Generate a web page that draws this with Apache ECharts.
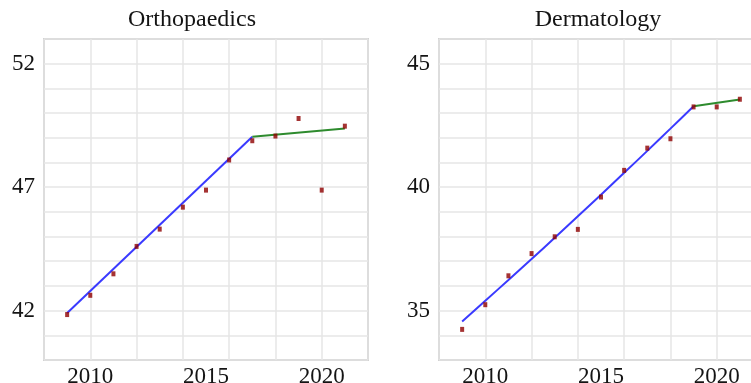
<!DOCTYPE html>
<html>
<head>
<meta charset="utf-8">
<script src="https://cdn.jsdelivr.net/npm/echarts@6/dist/echarts.min.js"></script>
<style>
html,body{margin:0;padding:0;background:#fff;}
#chart{width:751px;height:383px;}
</style>
</head>
<body>
<div id="chart"></div>
<script>
// ---- data ----
var years = [2009, 2010, 2011, 2012, 2013, 2014, 2015, 2016, 2017, 2018, 2019, 2020, 2021];

var orthoTitle = 'Orthopaedics';
var orthoValues = [41.84, 42.62, 43.49, 44.60, 45.30, 46.19, 46.88, 48.10, 48.88, 49.07, 49.78, 46.88, 49.47];
var orthoFit1Years = [2009, 2017];
var orthoFit1Values = [41.9, 49.04];
var orthoFit2Years = [2017, 2021];
var orthoFit2Values = [49.04, 49.38];

var dermTitle = 'Dermatology';
var dermValues = [34.24, 35.24, 36.41, 37.31, 37.99, 38.29, 39.60, 40.68, 41.58, 41.96, 43.25, 43.25, 43.56];
var dermFit1Years = [2009, 2010, 2011, 2012, 2013, 2014, 2015, 2016, 2017, 2018, 2019];
var dermFit1Values = [34.56, 35.40, 36.24, 37.09, 37.95, 38.82, 39.69, 40.58, 41.47, 42.37, 43.28];
var dermFit2Years = [2019, 2021];
var dermFit2Values = [43.28, 43.55];

var xTickLabels = [2010, 2015, 2020];
var orthoYTickLabels = [42, 47, 52];
var dermYTickLabels = [35, 40, 45];

// ---- styles ----
var FONT = 'Liberation Serif';
var TXT = '#141414';
var GRIDC = '#e6e6e6';
var BORDERC = '#b0b0b0';
var BLUE = '#3a3aff';
var GREEN = '#2e8b2e';
var MARK = '#8e0000';

function zip(a, b) { return a.map(function (v, i) { return [v, b[i]]; }); }

function xAxes(gi) {
  return [
    { type: 'value', gridIndex: gi, min: 2008, max: 2022, interval: 1,
      axisLine: { show: false }, axisTick: { show: false }, splitLine: { show: false },
      axisLabel: { margin: 5, fontFamily: FONT, fontSize: 23, color: TXT,
        formatter: function (v) { return xTickLabels.indexOf(Math.round(v)) >= 0 ? String(Math.round(v)) : ''; } } },
    { type: 'value', gridIndex: gi, min: 2008, max: 2022, interval: 2,
      axisLine: { show: false }, axisTick: { show: false }, axisLabel: { show: false },
      splitLine: { show: true, lineStyle: { color: GRIDC, width: 1.5 } } }
  ];
}
function yAxis(gi, mn, mx, labels) {
  return { type: 'value', gridIndex: gi, min: mn, max: mx, interval: 1,
    axisLine: { show: false }, axisTick: { show: false },
    splitLine: { show: true, lineStyle: { color: GRIDC, width: 1.5 } },
    axisLabel: { margin: 9, fontFamily: FONT, fontSize: 23, color: TXT,
      formatter: function (v) { return labels.indexOf(Math.round(v)) >= 0 ? String(Math.round(v)) : ''; } } };
}
function scatter(xi, yi, data) {
  return { type: 'scatter', xAxisIndex: xi, yAxisIndex: yi, data: data, symbol: 'rect',
    symbolSize: [4, 5], itemStyle: { color: MARK }, z: 5, silent: true };
}
function line(xi, yi, data, color, smooth) {
  return { type: 'line', xAxisIndex: xi, yAxisIndex: yi, data: data, showSymbol: false,
    smooth: smooth ? 0.3 : false, lineStyle: { color: color, width: 2 }, z: 4, silent: true };
}

var chart = echarts.init(document.getElementById('chart'), null, { renderer: 'canvas' });
chart.setOption({
  animation: false,
  backgroundColor: '#fff',
  title: [
    { text: orthoTitle, left: 192, top: 8, textAlign: 'center', padding: 0,
      textStyle: { fontFamily: FONT, fontSize: 24, fontWeight: 'normal', color: TXT } },
    { text: dermTitle, left: 598, top: 8, textAlign: 'center', padding: 0,
      textStyle: { fontFamily: FONT, fontSize: 24, fontWeight: 'normal', color: TXT } }
  ],
  grid: [
    { left: 44, top: 39, width: 324, height: 321, show: true, borderColor: BORDERC, borderWidth: 1.5,
      backgroundColor: 'transparent', containLabel: false, outerBoundsMode: 'none' },
    { left: 439, top: 39, width: 324, height: 321, show: true, borderColor: BORDERC, borderWidth: 1.5,
      backgroundColor: 'transparent', containLabel: false, outerBoundsMode: 'none' }
  ],
  xAxis: xAxes(0).concat(xAxes(1)),
  yAxis: [ yAxis(0, 40, 53, orthoYTickLabels), yAxis(1, 33, 46, dermYTickLabels) ],
  series: [
    line(0, 0, zip(orthoFit1Years, orthoFit1Values), BLUE, false),
    line(0, 0, zip(orthoFit2Years, orthoFit2Values), GREEN, false),
    scatter(0, 0, zip(years, orthoValues)),
    line(2, 1, zip(dermFit1Years, dermFit1Values), BLUE, true),
    line(2, 1, zip(dermFit2Years, dermFit2Values), GREEN, false),
    scatter(2, 1, zip(years, dermValues))
  ]
});
</script>
</body>
</html>
